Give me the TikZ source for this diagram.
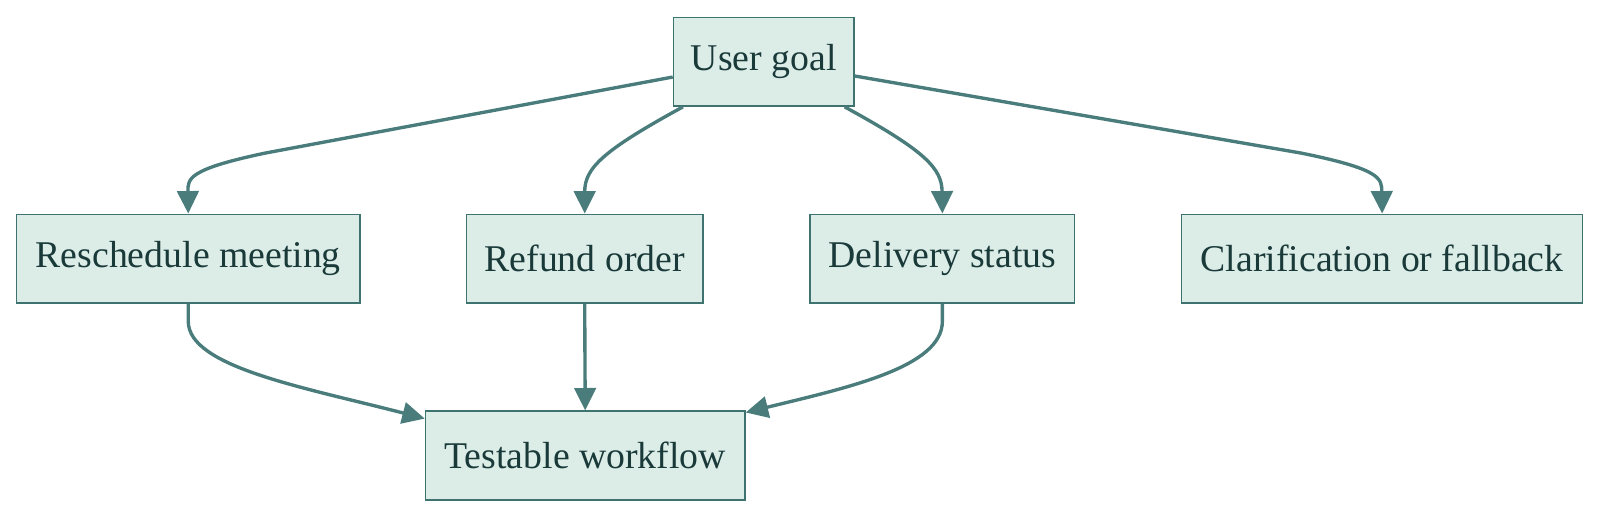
\documentclass[tikz,border=0pt]{standalone}
\usepackage{fontspec}
\setmainfont{Liberation Serif}
\usetikzlibrary{arrows.meta,calc}
\definecolor{boxfill}{HTML}{DCEDE8}
\definecolor{boxline}{HTML}{3F7370}
\definecolor{edge}{HTML}{4A7C7C}
\definecolor{txt}{HTML}{1A3A3A}
\begin{document}
\begin{tikzpicture}[x=1pt,y=1pt,
  box/.style={draw=boxline,fill=boxfill,line width=1.5pt,text=txt,font=\fontsize{37}{40}\selectfont,minimum height=87pt,inner sep=0pt,anchor=center},
  conn/.style={draw=edge,line width=3.3pt,-{Triangle[length=22pt,width=21pt]}}]
\useasboundingbox (0,0) rectangle (1568,-507.6);
\node[box,minimum width=177pt] (ug) at (748.5,-60.5) {User goal};
\node[box,minimum width=337pt] (rm) at (184.5,-253.5) {Reschedule meeting};
\node[box,minimum width=232pt] (ro) at (573,-253.5) {Refund order};
\node[box,minimum width=259pt] (ds) at (923.5,-253.5) {Delivery status};
\node[box,minimum width=393pt] (cf) at (1354.5,-253.5) {Clarification or fallback};
\node[box,minimum width=313pt] (tw) at (573.5,-446.5) {Testable workflow};
\draw[conn] ($(ug.west)+(0,-15)$) -- (260,-150) .. controls (184,-166) and (184,-175) .. (rm.north);
\draw[conn] ($(ug.south west)+(10,0)$) .. controls (590,-148) and (573,-165) .. (ro.north);
\draw[conn] ($(ug.south east)+(-10,0)$) .. controls (907,-148) and (923,-165) .. (ds.north);
\draw[conn] ($(ug.east)+(0,-14)$) -- (1275,-150) .. controls (1354,-166) and (1354,-175) .. (cf.north);
\draw[conn] (rm.south) -- (184.5,-315) .. controls (184.5,-360) and (300,-380) .. ($(tw.north west)+(0,-8)$);
\draw[conn] (ro.south) -- (tw.north);
\draw[conn] (ds.south) -- (923.5,-315) .. controls (923.5,-360) and (830,-380) .. ($(tw.north east)+(0,-2)$);
\end{tikzpicture}
\end{document}
